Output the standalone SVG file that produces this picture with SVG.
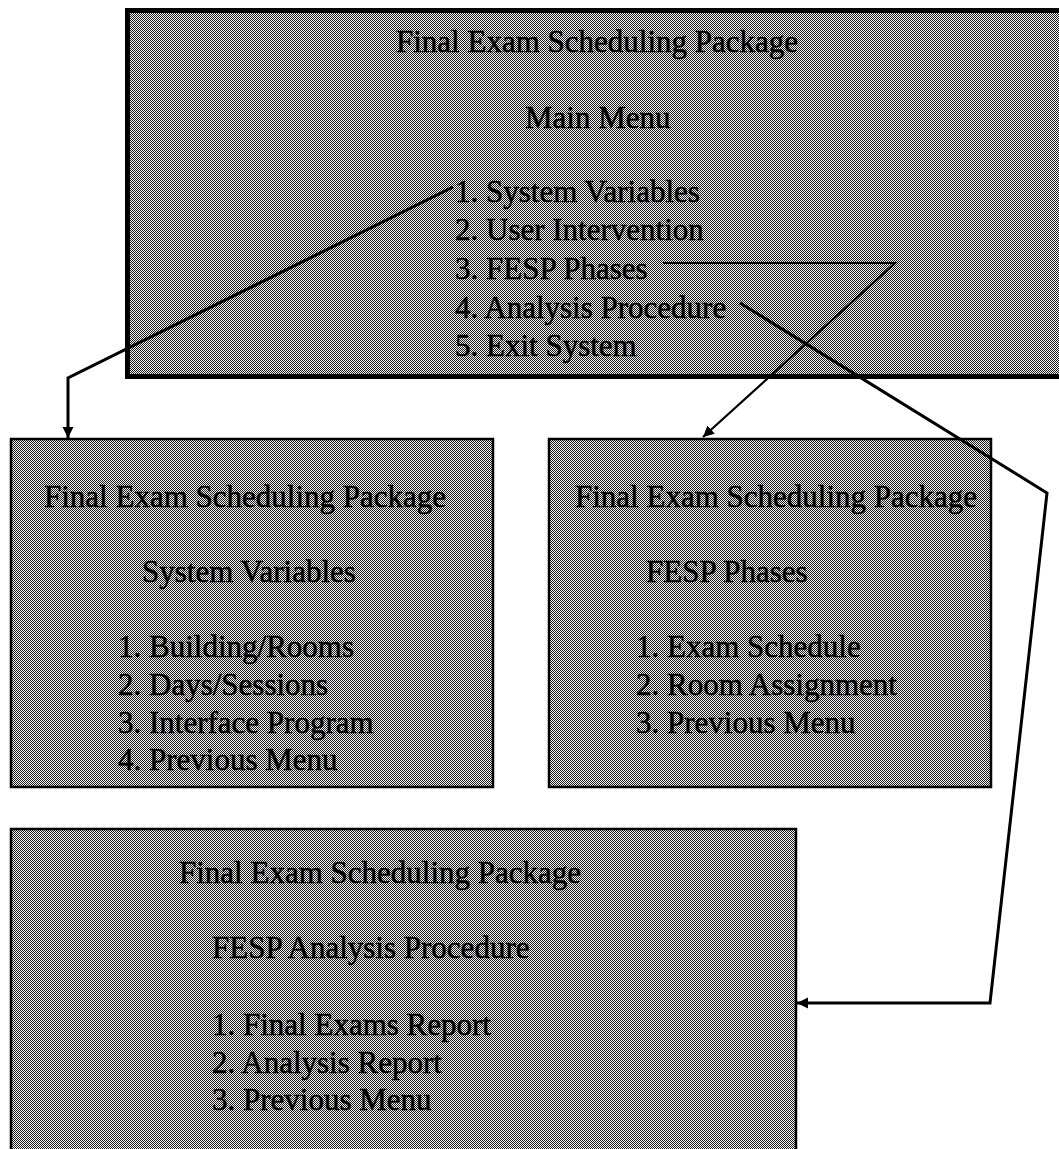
<svg xmlns="http://www.w3.org/2000/svg" width="1059" height="1149" viewBox="0 0 1059 1149">
<style>
.t{font-family:"Liberation Serif","Times New Roman",serif;font-size:31px;fill:#000;stroke:#000;stroke-width:0.5}
.box{fill:url(#dither);stroke:#000;stroke-width:2.5}
.boxthick{fill:url(#dither);stroke:#000;stroke-width:5}
.conn{fill:none;stroke:#000;stroke-width:3;stroke-linejoin:miter}
.thin{stroke-width:2.2}
</style>
<defs>
<pattern id="dither" width="2" height="2" patternUnits="userSpaceOnUse">
<rect width="2" height="2" fill="#f2f2f2"/>
<rect x="0" y="0" width="1" height="1" fill="#1e1e1e"/>
<rect x="1" y="1" width="1" height="1" fill="#1e1e1e"/>
</pattern>
<marker id="arrow" viewBox="0 0 10 10" refX="10" refY="5" markerWidth="11" markerHeight="13" markerUnits="userSpaceOnUse" orient="auto">
<path d="M0,0 L10,5 L0,10 z" fill="#000"/>
</marker>
</defs>
<rect width="1059" height="1149" fill="#fff"/>

<g id="node-main-menu">
<rect class="boxthick" x="127.5" y="10.5" width="945" height="366"/>
<text class="t" x="396" y="52">Final Exam Scheduling Package</text>
<text class="t" x="525" y="128">Main Menu</text>
<text class="t" x="455" y="202">1. System Variables</text>
<text class="t" x="455" y="240">2. User Intervention</text>
<text class="t" x="455" y="279">3. FESP Phases</text>
<text class="t" x="455" y="318">4. Analysis Procedure</text>
<text class="t" x="455" y="356">5. Exit System</text>
</g>

<g id="node-system-variables">
<rect class="box" x="11" y="439" width="482" height="348"/>
<text class="t" x="44" y="507">Final Exam Scheduling Package</text>
<text class="t" x="142" y="582">System Variables</text>
<text class="t" x="118" y="657">1. Building/Rooms</text>
<text class="t" x="118" y="695">2. Days/Sessions</text>
<text class="t" x="118" y="733">3. Interface Program</text>
<text class="t" x="118" y="770">4. Previous Menu</text>
</g>

<g id="node-fesp-phases">
<rect class="box" x="549" y="439" width="442" height="348"/>
<text class="t" x="575" y="507">Final Exam Scheduling Package</text>
<text class="t" x="646" y="582">FESP Phases</text>
<text class="t" x="636" y="657">1. Exam Schedule</text>
<text class="t" x="636" y="695">2. Room Assignment</text>
<text class="t" x="636" y="733">3. Previous Menu</text>
</g>

<g id="node-analysis-procedure">
<rect class="box" x="11" y="829" width="785" height="340"/>
<text class="t" x="179" y="883">Final Exam Scheduling Package</text>
<text class="t" x="212" y="958">FESP Analysis Procedure</text>
<text class="t" x="212" y="1035">1. Final Exams Report</text>
<text class="t" x="212" y="1073">2. Analysis Report</text>
<text class="t" x="212" y="1110">3. Previous Menu</text>
</g>

<g id="connectors">
<path class="conn" d="M453,187 L68,378 L68,438" marker-end="url(#arrow)"/>
<path class="conn thin" d="M663,263 L895,263 L703,437" marker-end="url(#arrow)"/>
<path class="conn" d="M740,303 L1047,493 L990,1003 L797,1003" marker-end="url(#arrow)"/>
</g>
</svg>
